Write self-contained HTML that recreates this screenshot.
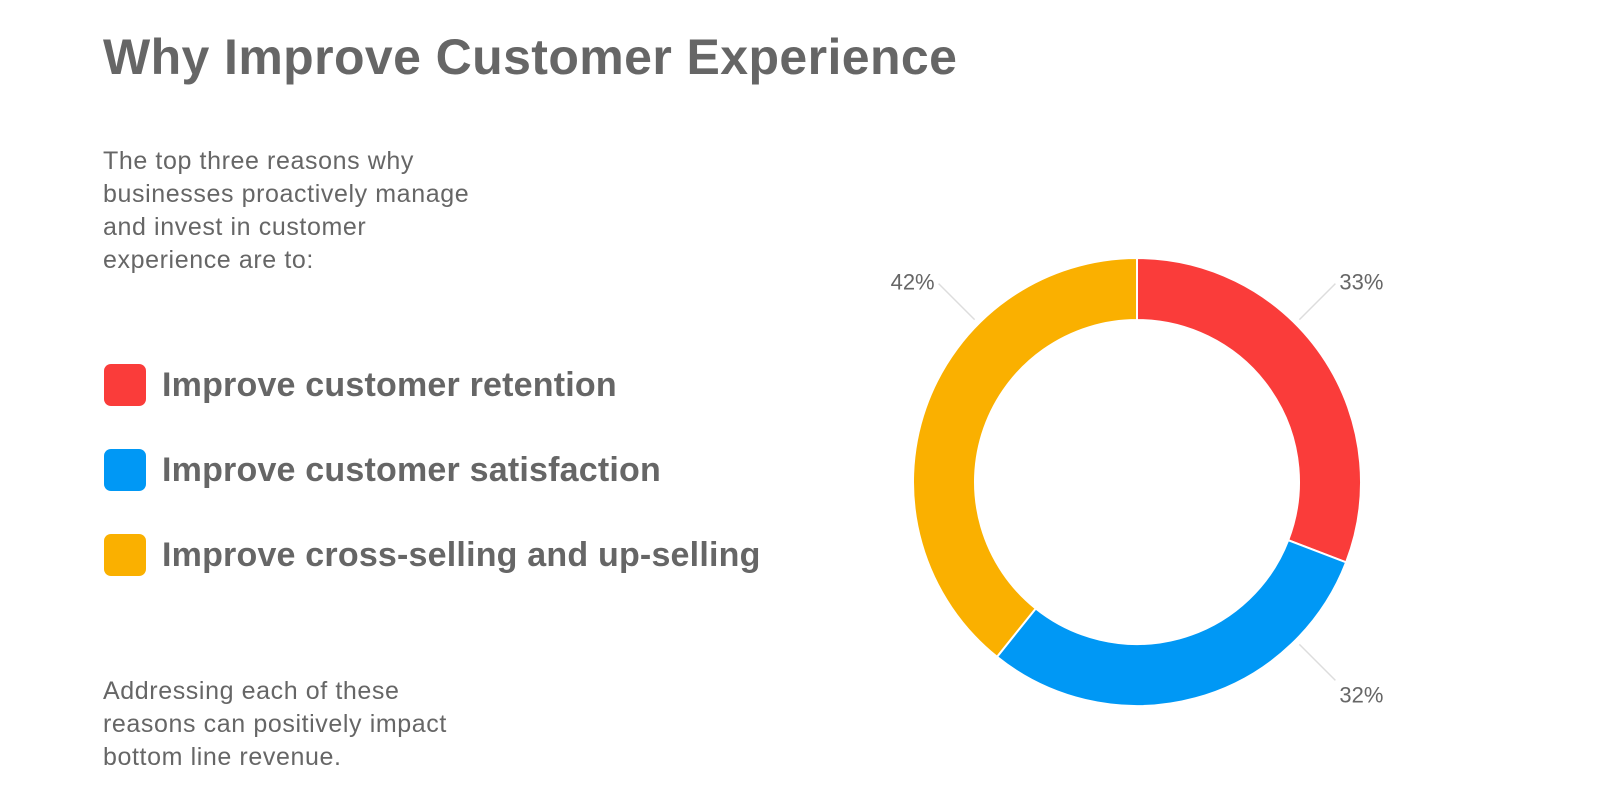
<!DOCTYPE html>
<html><head><meta charset="utf-8"><style>
body{margin:0;width:1600px;height:810px;background:#fff;font-family:"Liberation Sans",sans-serif;color:#666;position:relative;overflow:hidden}
.abs{position:absolute}
h1{position:absolute;left:103px;top:28px;margin:0;font-size:50px;font-weight:bold;color:#666;letter-spacing:0.4px}
.p{font-size:25px;line-height:33px;color:#666;letter-spacing:0.6px}
.leg{position:absolute;left:104px;display:flex;align-items:center;font-size:34px;font-weight:bold;color:#666;letter-spacing:0.2px}
.sw{width:42px;height:42px;border-radius:7px;margin-right:16px}
</style></head><body>
<h1>Why Improve Customer Experience</h1>
<div class="abs p" style="left:103px;top:145px;width:420px">The top three reasons why<br>businesses proactively manage<br>and invest in customer<br>experience are to:</div>
<div class="leg" style="top:364px"><div class="sw" style="background:#fa3c3a"></div>Improve customer retention</div>
<div class="leg" style="top:449px"><div class="sw" style="background:#0098f5"></div>Improve customer satisfaction</div>
<div class="leg" style="top:534px"><div class="sw" style="background:#fab000"></div>Improve cross-selling and up-selling</div>
<div class="abs p" style="left:103px;top:675px;width:420px">Addressing each of these<br>reasons can positively impact<br>bottom line revenue.</div>
<svg class="abs" style="left:0;top:0" width="1600" height="810" id="chart"></svg>
<script>
const categories=["Improve customer retention","Improve customer satisfaction","Improve cross-selling and up-selling"];
const values=[33,32,42];
const labels=["33%","32%","42%"];
const colors=["#fa3c3a","#0098f5","#fab000"];
const svg=document.getElementById('chart');
const NS="http://www.w3.org/2000/svg";
const cx=1137,cy=482,R=224,r=162;
const total=values.reduce((a,b)=>a+b,0);
function pt(a,rad){return [cx+rad*Math.sin(a),cy-rad*Math.cos(a)];}
let a0=0;
const labelPos=[];
values.forEach((v,i)=>{
  const a1=a0+v/total*2*Math.PI;
  const [x0,y0]=pt(a0,R),[x1,y1]=pt(a1,R),[x2,y2]=pt(a1,r),[x3,y3]=pt(a0,r);
  const lg=(a1-a0)>Math.PI?1:0;
  const p=document.createElementNS(NS,'path');
  p.setAttribute('d',`M${x0},${y0}A${R},${R} 0 ${lg} 1 ${x1},${y1}L${x2},${y2}A${r},${r} 0 ${lg} 0 ${x3},${y3}Z`);
  p.setAttribute('fill',colors[i]);p.setAttribute('stroke','#fff');p.setAttribute('stroke-width','2');
  
  
  svg.appendChild(p);
  labelPos.push((a0+a1)/2);
  a0=a1;
});
labelPos.forEach((m,i)=>{
  const sx=Math.sin(m)>=0?1:-1, sy=Math.cos(m)>=0?-1:1;
  const d=R*0.7071;
  const x1=cx+sx*(d+4),y1=cy+sy*(d+4),x2=cx+sx*(d+40),y2=cy+sy*(d+40);
  const l=document.createElementNS(NS,'line');
  l.setAttribute('x1',x1);l.setAttribute('y1',y1);l.setAttribute('x2',x2);l.setAttribute('y2',y2);
  l.setAttribute('stroke','#ddd');l.setAttribute('stroke-width','1.5');
  
  
  svg.appendChild(l);
  const t=document.createElementNS(NS,'text');
  t.setAttribute('x',x2+sx*26);t.setAttribute('y',y2+sy*(sy<0?2:14)+8);
  t.setAttribute('text-anchor','middle');t.setAttribute('font-size','22');t.setAttribute('fill','#666');
  t.setAttribute('font-family','Liberation Sans, sans-serif');
  t.textContent=labels[i];
  
  
  svg.appendChild(t);
});
</script>
</body></html>
